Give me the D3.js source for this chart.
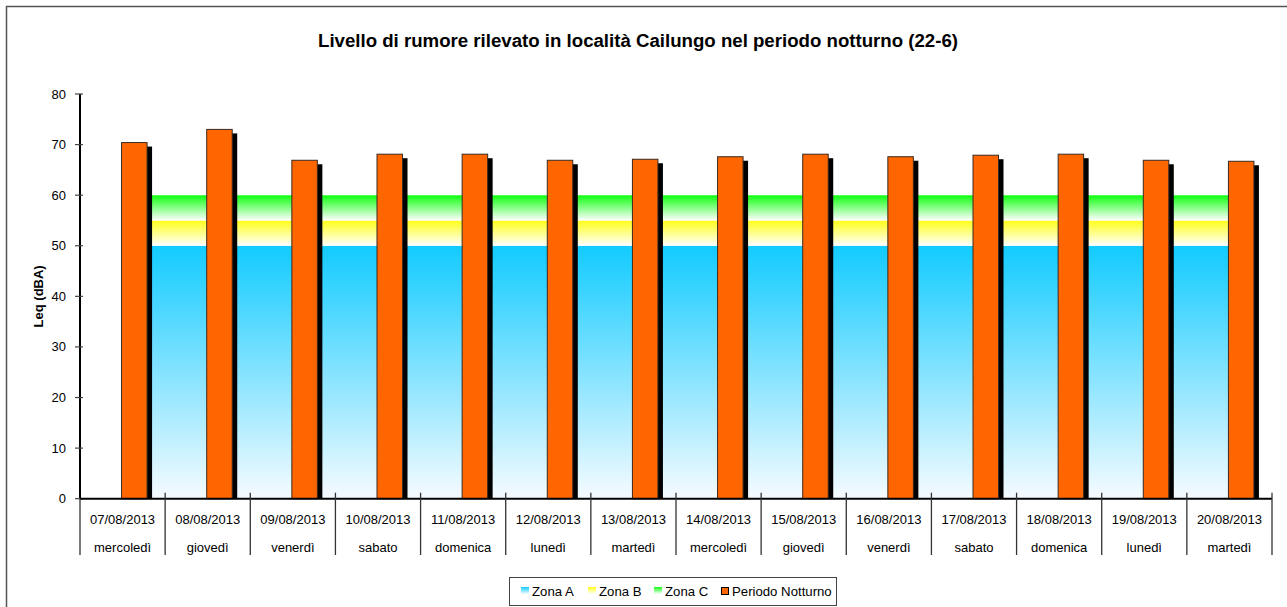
<!DOCTYPE html>
<html>
<head>
<meta charset="utf-8">
<script src="https://cdn.jsdelivr.net/npm/d3@7"></script>
<style>
  body { margin: 0; background: #fff; }
  svg { display: block; font-family: "Liberation Sans", Arial, sans-serif; }
</style>
</head>
<body>
<div id="chart"></div>
<script>
// data
const dates = ["07/08/2013", "08/08/2013", "09/08/2013", "10/08/2013", "11/08/2013", "12/08/2013", "13/08/2013",
               "14/08/2013", "15/08/2013", "16/08/2013", "17/08/2013", "18/08/2013", "19/08/2013", "20/08/2013"];
const days = ["mercoledì", "giovedì", "venerdì", "sabato", "domenica", "lunedì", "martedì",
              "mercoledì", "giovedì", "venerdì", "sabato", "domenica", "lunedì", "martedì"];
const notturno = [70.4, 73.0, 66.9, 68.1, 68.1, 66.9, 67.1, 67.6, 68.1, 67.6, 67.9, 68.1, 66.9, 66.7];
const zoneNames = ["Zona A", "Zona B", "Zona C"];
const zoneLimits = [50, 55, 60];
const yTicks = [0, 10, 20, 30, 40, 50, 60, 70, 80];

const W = 1287, H = 607;
const margin = { top: 94, right: 15, bottom: 108.3, left: 80 };

const svg = d3.select("#chart").append("svg")
  .attr("width", W).attr("height", H);

const defs = svg.append("defs");
const zoneColors = [["#12cbff", "#f6fbff"], ["#ffff1a", "#ffffff"], ["#10ff10", "#ffffff"]];
zoneColors.forEach((c, i) => {
  const g = defs.append("linearGradient").attr("id", "zg" + i)
    .attr("x1", 0).attr("y1", 0).attr("x2", 0).attr("y2", 1);
  g.append("stop").attr("offset", 0).attr("stop-color", c[0]);
  g.append("stop").attr("offset", 1).attr("stop-color", c[1]);
});

// outer frame
svg.append("rect").attr("x", 6.5).attr("y", 6.5).attr("width", W + 20).attr("height", H + 20)
  .attr("fill", "none").attr("stroke", "#555").attr("stroke-width", 1.5);

const x = d3.scaleBand().domain(dates).range([margin.left, W - margin.right]).padding(0);
const y = d3.scaleLinear().domain([0, 80]).range([H - margin.bottom, margin.top]);
const bw = x.bandwidth();
const cx = d => x(d) + bw / 2;

// zones (areas between category centres)
zoneLimits.forEach((top, i) => {
  const bottom = i === 0 ? 0 : zoneLimits[i - 1];
  const area = d3.area().x(d => cx(d)).y0(y(bottom)).y1(y(top));
  svg.append("path").datum(dates).attr("d", area).attr("fill", `url(#zg${i})`);
  svg.append("line")
    .attr("x1", cx(dates[0])).attr("x2", cx(dates[0]))
    .attr("y1", y(bottom)).attr("y2", y(top))
    .attr("stroke", i === 0 ? "#1a6f8a" : (i === 1 ? "#9a9a30" : "#2a9a2a")).attr("stroke-width", 1).attr("opacity", 0.6);
});

// bars with shadow
const barW = 25.5;
svg.append("g").selectAll("rect").data(dates).join("rect")
  .attr("x", d => cx(d) - 1 + 5).attr("y", (d, i) => y(notturno[i]) + 4)
  .attr("width", barW).attr("height", (d, i) => y(0) - y(notturno[i]) - 4)
  .attr("fill", "#000");
svg.append("g").selectAll("rect").data(dates).join("rect")
  .attr("x", d => cx(d) - 1).attr("y", (d, i) => y(notturno[i]))
  .attr("width", barW).attr("height", (d, i) => y(0) - y(notturno[i]))
  .attr("fill", "#ff6600").attr("stroke", "#3a2a20").attr("stroke-width", 1);

// y axis
const yAxis = svg.append("g");
yAxis.append("line").attr("x1", margin.left).attr("x2", margin.left)
  .attr("y1", y(80)).attr("y2", y(0)).attr("stroke", "#000").attr("stroke-width", 2);
yAxis.selectAll(".tk").data(yTicks).join("line")
  .attr("x1", margin.left - 5).attr("x2", margin.left + 3)
  .attr("y1", d => y(d)).attr("y2", d => y(d)).attr("stroke", "#444").attr("stroke-width", 1.2);
yAxis.selectAll("text").data(yTicks).join("text")
  .attr("x", 66).attr("y", d => y(d)).attr("dy", "0.35em")
  .attr("text-anchor", "end").attr("font-size", 13).attr("fill", "#000").text(d => d);

// x axis
const xAxis = svg.append("g");
xAxis.append("line").attr("x1", margin.left).attr("x2", W - margin.right)
  .attr("y1", y(0)).attr("y2", y(0)).attr("stroke", "#000").attr("stroke-width", 2);
const bounds = dates.map(d => x(d)).concat([x(dates[dates.length - 1]) + bw]);
xAxis.selectAll(".sep").data(bounds).join("line")
  .attr("x1", d => d).attr("x2", d => d)
  .attr("y1", (d, i) => i === 0 ? y(0) : y(0) - 6).attr("y2", 555)
  .attr("stroke", "#333").attr("stroke-width", 1.3);
xAxis.selectAll(".dt").data(dates).join("text")
  .attr("x", d => cx(d)).attr("y", 524).attr("text-anchor", "middle")
  .attr("font-size", 13).attr("fill", "#000").text(d => d);
xAxis.selectAll(".dy").data(days).join("text")
  .attr("x", (d, i) => cx(dates[i])).attr("y", 552).attr("text-anchor", "middle")
  .attr("font-size", 13).attr("fill", "#000").text(d => d);

// titles
svg.append("text").attr("x", 638).attr("y", 47).attr("text-anchor", "middle")
  .attr("font-size", 17.5).attr("font-weight", "bold").attr("fill", "#000")
  .attr("textLength", 640).attr("lengthAdjust", "spacingAndGlyphs")
  .text("Livello di rumore rilevato  in località  Cailungo nel periodo notturno (22-6)");
svg.append("text").attr("transform", `translate(43,${(y(0) + y(80)) / 2}) rotate(-90)`)
  .attr("text-anchor", "middle").attr("font-size", 13).attr("font-weight", "bold")
  .text("Leq (dBA)");

// legend
const lg = svg.append("g");
lg.append("rect").attr("x", 509.5).attr("y", 577.5).attr("width", 327).attr("height", 28)
  .attr("fill", "#fff").attr("stroke", "#444").attr("stroke-width", 1);
const legendItems = zoneNames.concat(["Periodo Notturno"]);
const legendX = [521, 588, 654, 721];
legendItems.forEach((name, i) => {
  if (i < 3) {
    lg.append("rect").attr("x", legendX[i]).attr("y", 587).attr("width", 8).attr("height", 7)
      .attr("fill", `url(#zg${i})`);
  } else {
    lg.append("rect").attr("x", legendX[i] + 0.5).attr("y", 587.5).attr("width", 7).attr("height", 7)
      .attr("fill", "#ff6600").attr("stroke", "#000").attr("stroke-width", 1);
  }
  lg.append("text").attr("x", legendX[i] + 11).attr("y", 596)
    .attr("font-size", 13.2).attr("fill", "#000").text(name);
});
</script>
</body>
</html>
